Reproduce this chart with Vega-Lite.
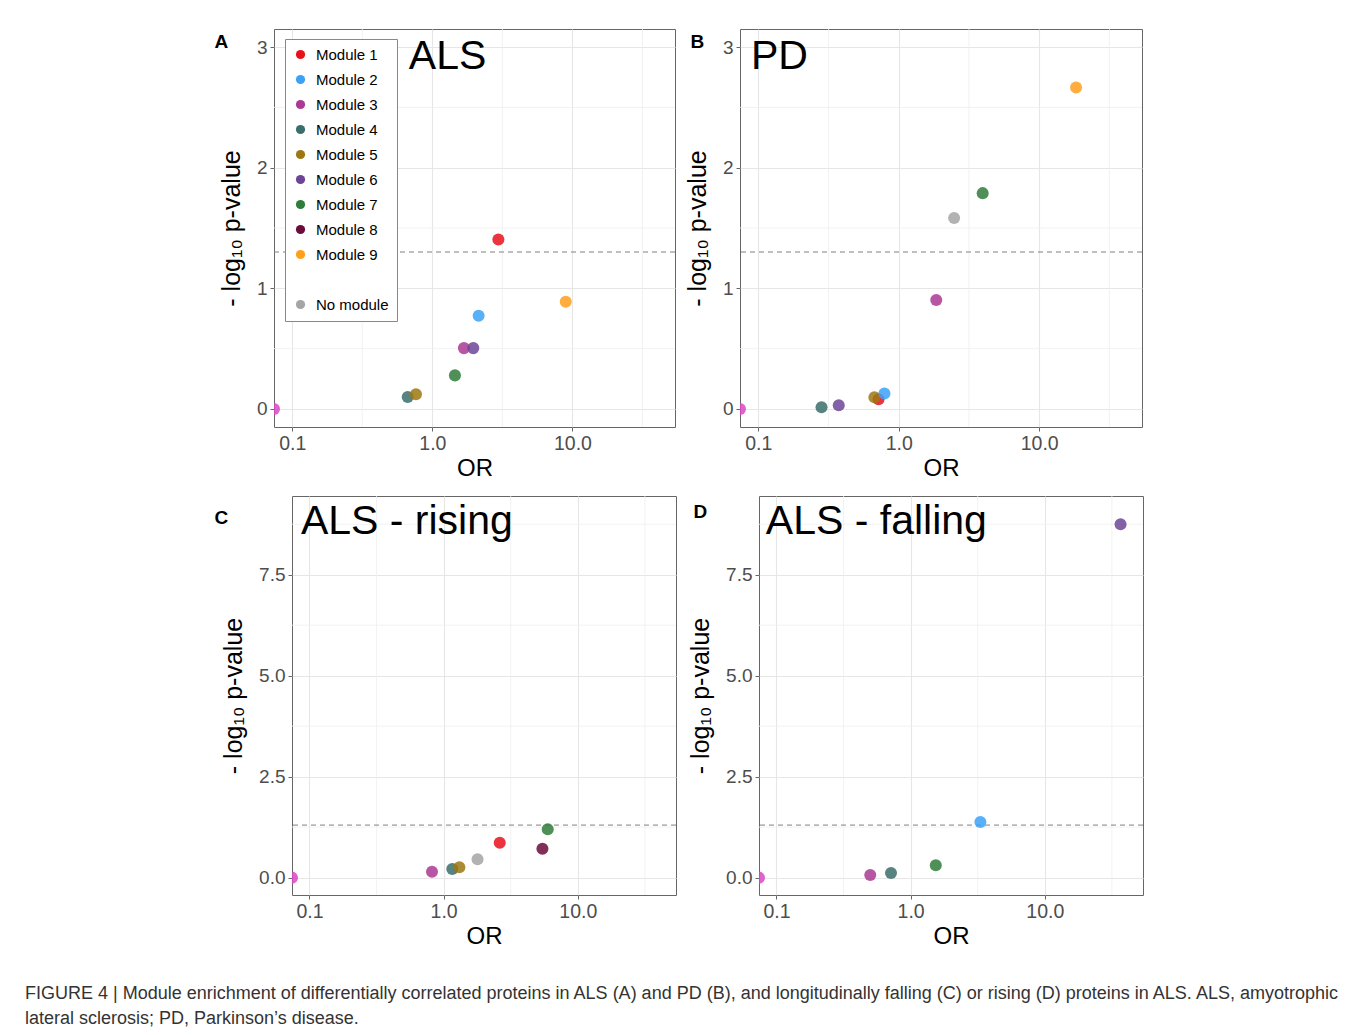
{
  "$schema": "https://vega.github.io/schema/vega-lite/v6.json",
  "background": "white",
  "padding": {"left": 25, "top": 26, "right": 10, "bottom": 10},
  "autosize": {"type": "pad"},
  "datasets": {
    "pts": [
      {"panel": "A", "module": "pink", "or": 0.0741, "p": 0},
      {"panel": "A", "module": "Module 4", "or": 0.667, "p": 0.099},
      {"panel": "A", "module": "Module 5", "or": 0.764, "p": 0.121},
      {"panel": "A", "module": "Module 7", "or": 1.45, "p": 0.278},
      {"panel": "A", "module": "Module 3", "or": 1.68, "p": 0.504},
      {"panel": "A", "module": "Module 6", "or": 1.96, "p": 0.504},
      {"panel": "A", "module": "Module 2", "or": 2.14, "p": 0.773},
      {"panel": "A", "module": "Module 1", "or": 2.96, "p": 1.404},
      {"panel": "A", "module": "Module 9", "or": 8.96, "p": 0.889},
      {"panel": "B", "module": "pink", "or": 0.0741, "p": 0},
      {"panel": "B", "module": "Module 4", "or": 0.282, "p": 0.014},
      {"panel": "B", "module": "Module 6", "or": 0.374, "p": 0.031},
      {"panel": "B", "module": "Module 1", "or": 0.718, "p": 0.08},
      {"panel": "B", "module": "Module 5", "or": 0.671, "p": 0.097},
      {"panel": "B", "module": "Module 2", "or": 0.791, "p": 0.127},
      {"panel": "B", "module": "Module 3", "or": 1.85, "p": 0.903},
      {"panel": "B", "module": "No module", "or": 2.48, "p": 1.583},
      {"panel": "B", "module": "Module 7", "or": 3.96, "p": 1.789},
      {"panel": "B", "module": "Module 9", "or": 18.3, "p": 2.665},
      {"panel": "C", "module": "pink", "or": 0.0741, "p": 0},
      {"panel": "C", "module": "Module 3", "or": 0.819, "p": 0.148},
      {"panel": "C", "module": "Module 4", "or": 1.16, "p": 0.215},
      {"panel": "C", "module": "Module 5", "or": 1.31, "p": 0.257},
      {"panel": "C", "module": "No module", "or": 1.79, "p": 0.455},
      {"panel": "C", "module": "Module 1", "or": 2.62, "p": 0.866},
      {"panel": "C", "module": "Module 8", "or": 5.45, "p": 0.717},
      {"panel": "C", "module": "Module 7", "or": 5.97, "p": 1.197},
      {"panel": "D", "module": "pink", "or": 0.0741, "p": 0},
      {"panel": "D", "module": "Module 3", "or": 0.5, "p": 0.067},
      {"panel": "D", "module": "Module 4", "or": 0.714, "p": 0.116},
      {"panel": "D", "module": "Module 7", "or": 1.54, "p": 0.306},
      {"panel": "D", "module": "Module 2", "or": 3.31, "p": 1.377},
      {"panel": "D", "module": "Module 6", "or": 36.7, "p": 8.75}
    ],
    "labels": [
      {"panel": "A", "label": "ALS", "or": 0.679, "p": 2.82},
      {"panel": "B", "label": "PD", "or": 0.0886, "p": 2.82},
      {"panel": "C", "label": "ALS - rising", "or": 0.0863, "p": 8.516},
      {"panel": "D", "label": "ALS - falling", "or": 0.0833, "p": 8.516}
    ],
    "minorx": [{"gx": 0.31623}, {"gx": 3.1623}, {"gx": 31.623}],
    "minorAB": [{"gy": 0.5}, {"gy": 1.5}, {"gy": 2.5}],
    "minorCD": [{"gy": 1.25}, {"gy": 3.75}, {"gy": 6.25}, {"gy": 8.75}]
  },
  "title": {
    "text": ["FIGURE 4 | Module enrichment of differentially correlated proteins in ALS (A) and PD (B), and longitudinally falling (C) or rising (D) proteins in ALS. ALS, amyotrophic", "lateral sclerosis; PD, Parkinson’s disease."],
    "orient": "bottom",
    "anchor": "start",
    "frame": "group",
    "dx": -174,
    "offset": 36,
    "font": "Liberation Sans",
    "fontSize": 18,
    "fontWeight": "normal",
    "color": "#333333",
    "lineHeight": 25
  },
  "spacing": 12,
  "resolve": {"scale": {"color": "independent"}, "legend": {"color": "independent"}},
  "vconcat": [
    {
      "spacing": 8,
      "resolve": {"scale": {"color": "independent"}, "legend": {"color": "independent"}},
      "hconcat": [
        {
          "width": 6, "height": 1,
          "view": {"stroke": null},
          "data": {"values": [{}]},
          "mark": {"type": "point", "opacity": 0},
          "encoding": {}
        },
        {
          "width": 401, "height": 398,
          "title": {"text": "A", "dx": -5, "offset": -23},
          "layer": [
            {"data": {"name": "minorx"}, "mark": {"type": "rule", "color": "#EFEFEF", "strokeWidth": 0.8}, "encoding": {"x": {"field": "gx", "type": "quantitative", "title": "OR"}}},
            {"data": {"name": "minorAB"}, "mark": {"type": "rule", "color": "#EFEFEF", "strokeWidth": 0.8}, "encoding": {"y": {"field": "gy", "type": "quantitative", "title": "- log₁₀ p-value"}}},
            {
              "data": {"values": [{}]},
              "mark": {"type": "rule", "strokeDash": [5, 4], "color": "#808080", "strokeWidth": 1},
              "encoding": {"y": {"datum": 1.30103, "type": "quantitative"}}
            },
            {
              "data": {"name": "pts"},
              "transform": [{"filter": "datum.panel === 'A'"}],
              "mark": {"type": "point", "filled": true, "size": 145, "opacity": 0.85, "clip": true},
              "encoding": {
                "x": {"field": "or", "type": "quantitative", "title": "OR",
                  "scale": {"type": "log", "domain": [0.0741, 53.95], "nice": false},
                  "axis": {"values": [0.1, 1, 10], "format": ".1f"}},
                "y": {"field": "p", "type": "quantitative", "title": "- log₁₀ p-value",
                  "scale": {"domain": [-0.15, 3.15], "nice": false, "zero": false},
                  "axis": {"values": [0, 1, 2, 3], "format": "d"}},
                "color": {"field": "module", "type": "nominal",
                  "condition": {"test": "datum.module === 'pink'", "value": "#D946C6"},
                  "scale": {"domain": ["Module 1", "Module 2", "Module 3", "Module 4", "Module 5", "Module 6", "Module 7", "Module 8", "Module 9", " ", "No module"],
                    "range": ["#E8111B", "#3BA3F7", "#AA3A94", "#3A6E6A", "#9E7712", "#6C4596", "#2F7D3A", "#6B0C3C", "#FF9F1C", "transparent", "#A5A5A5"]},
                  "legend": {"title": null, "orient": "none", "legendX": 11, "legendY": 10, "strokeColor": "#888888", "fillColor": "white", "padding": 8, "labelFontSize": 15, "labelFont": "Liberation Sans", "labelColor": "black", "symbolSize": 85, "symbolOpacity": 1, "symbolStrokeWidth": 0, "symbolType": "circle", "rowPadding": 9, "labelOffset": 8}}
              }
            },
            {
              "data": {"name": "labels"},
              "transform": [{"filter": "datum.panel === 'A'"}],
              "mark": {"type": "text", "fontSize": 41, "align": "left", "baseline": "alphabetic", "font": "Liberation Sans", "color": "black"},
              "encoding": {"x": {"field": "or", "type": "quantitative", "title": "OR"}, "y": {"field": "p", "type": "quantitative", "title": "- log₁₀ p-value"}, "text": {"field": "label"}}
            }
          ]
        },
        {
          "width": 402, "height": 398,
          "title": {"text": "B", "dx": 5, "offset": -23},
          "layer": [
            {"data": {"name": "minorx"}, "mark": {"type": "rule", "color": "#EFEFEF", "strokeWidth": 0.8}, "encoding": {"x": {"field": "gx", "type": "quantitative", "title": "OR"}}},
            {"data": {"name": "minorAB"}, "mark": {"type": "rule", "color": "#EFEFEF", "strokeWidth": 0.8}, "encoding": {"y": {"field": "gy", "type": "quantitative", "title": "- log₁₀ p-value"}}},
            {
              "data": {"values": [{}]},
              "mark": {"type": "rule", "strokeDash": [5, 4], "color": "#808080", "strokeWidth": 1},
              "encoding": {"y": {"datum": 1.30103, "type": "quantitative"}}
            },
            {
              "data": {"name": "pts"},
              "transform": [{"filter": "datum.panel === 'B'"}],
              "mark": {"type": "point", "filled": true, "size": 145, "opacity": 0.85, "clip": true},
              "encoding": {
                "x": {"field": "or", "type": "quantitative", "title": "OR",
                  "scale": {"type": "log", "domain": [0.0741, 53.95], "nice": false},
                  "axis": {"values": [0.1, 1, 10], "format": ".1f"}},
                "y": {"field": "p", "type": "quantitative", "title": "- log₁₀ p-value",
                  "scale": {"domain": [-0.15, 3.15], "nice": false, "zero": false},
                  "axis": {"values": [0, 1, 2, 3], "format": "d"}},
                "color": {"field": "module", "type": "nominal",
                  "condition": {"test": "datum.module === 'pink'", "value": "#D946C6"},
                  "scale": {"domain": ["Module 1", "Module 2", "Module 3", "Module 4", "Module 5", "Module 6", "Module 7", "Module 8", "Module 9", " ", "No module"],
                    "range": ["#E8111B", "#3BA3F7", "#AA3A94", "#3A6E6A", "#9E7712", "#6C4596", "#2F7D3A", "#6B0C3C", "#FF9F1C", "transparent", "#A5A5A5"]},
                  "legend": null}
              }
            },
            {
              "data": {"name": "labels"},
              "transform": [{"filter": "datum.panel === 'B'"}],
              "mark": {"type": "text", "fontSize": 41, "align": "left", "baseline": "alphabetic", "font": "Liberation Sans", "color": "black"},
              "encoding": {"x": {"field": "or", "type": "quantitative", "title": "OR"}, "y": {"field": "p", "type": "quantitative", "title": "- log₁₀ p-value"}, "text": {"field": "label"}}
            }
          ]
        }
      ]
    },
    {
      "spacing": 11,
      "resolve": {"scale": {"color": "independent"}, "legend": {"color": "independent"}},
      "hconcat": [
        {
          "width": 1, "height": 1,
          "view": {"stroke": null},
          "data": {"values": [{}]},
          "mark": {"type": "point", "opacity": 0},
          "encoding": {}
        },
        {
          "width": 384, "height": 399,
          "title": {"text": "C", "dx": -7, "offset": -32},
          "layer": [
            {"data": {"name": "minorx"}, "mark": {"type": "rule", "color": "#EFEFEF", "strokeWidth": 0.8}, "encoding": {"x": {"field": "gx", "type": "quantitative", "title": "OR"}}},
            {"data": {"name": "minorCD"}, "mark": {"type": "rule", "color": "#EFEFEF", "strokeWidth": 0.8}, "encoding": {"y": {"field": "gy", "type": "quantitative", "title": "- log₁₀ p-value"}}},
            {
              "data": {"values": [{}]},
              "mark": {"type": "rule", "strokeDash": [5, 4], "color": "#808080", "strokeWidth": 1},
              "encoding": {"y": {"datum": 1.30103, "type": "quantitative"}}
            },
            {
              "data": {"name": "pts"},
              "transform": [{"filter": "datum.panel === 'C'"}],
              "mark": {"type": "point", "filled": true, "size": 145, "opacity": 0.85, "clip": true},
              "encoding": {
                "x": {"field": "or", "type": "quantitative", "title": "OR",
                  "scale": {"type": "log", "domain": [0.0741, 53.95], "nice": false},
                  "axis": {"values": [0.1, 1, 10], "format": ".1f"}},
                "y": {"field": "p", "type": "quantitative", "title": "- log₁₀ p-value",
                  "scale": {"domain": [-0.43, 9.45], "nice": false, "zero": false},
                  "axis": {"values": [0, 2.5, 5, 7.5], "format": ".1f"}},
                "color": {"field": "module", "type": "nominal",
                  "condition": {"test": "datum.module === 'pink'", "value": "#D946C6"},
                  "scale": {"domain": ["Module 1", "Module 2", "Module 3", "Module 4", "Module 5", "Module 6", "Module 7", "Module 8", "Module 9", " ", "No module"],
                    "range": ["#E8111B", "#3BA3F7", "#AA3A94", "#3A6E6A", "#9E7712", "#6C4596", "#2F7D3A", "#6B0C3C", "#FF9F1C", "transparent", "#A5A5A5"]},
                  "legend": null}
              }
            },
            {
              "data": {"name": "labels"},
              "transform": [{"filter": "datum.panel === 'C'"}],
              "mark": {"type": "text", "fontSize": 41, "align": "left", "baseline": "alphabetic", "font": "Liberation Sans", "color": "black"},
              "encoding": {"x": {"field": "or", "type": "quantitative", "title": "OR"}, "y": {"field": "p", "type": "quantitative", "title": "- log₁₀ p-value"}, "text": {"field": "label"}}
            }
          ]
        },
        {
          "width": 384, "height": 399,
          "title": {"text": "D", "dx": 5, "offset": -26},
          "layer": [
            {"data": {"name": "minorx"}, "mark": {"type": "rule", "color": "#EFEFEF", "strokeWidth": 0.8}, "encoding": {"x": {"field": "gx", "type": "quantitative", "title": "OR"}}},
            {"data": {"name": "minorCD"}, "mark": {"type": "rule", "color": "#EFEFEF", "strokeWidth": 0.8}, "encoding": {"y": {"field": "gy", "type": "quantitative", "title": "- log₁₀ p-value"}}},
            {
              "data": {"values": [{}]},
              "mark": {"type": "rule", "strokeDash": [5, 4], "color": "#808080", "strokeWidth": 1},
              "encoding": {"y": {"datum": 1.30103, "type": "quantitative"}}
            },
            {
              "data": {"name": "pts"},
              "transform": [{"filter": "datum.panel === 'D'"}],
              "mark": {"type": "point", "filled": true, "size": 145, "opacity": 0.85, "clip": true},
              "encoding": {
                "x": {"field": "or", "type": "quantitative", "title": "OR",
                  "scale": {"type": "log", "domain": [0.0741, 53.95], "nice": false},
                  "axis": {"values": [0.1, 1, 10], "format": ".1f"}},
                "y": {"field": "p", "type": "quantitative", "title": "- log₁₀ p-value",
                  "scale": {"domain": [-0.43, 9.45], "nice": false, "zero": false},
                  "axis": {"values": [0, 2.5, 5, 7.5], "format": ".1f"}},
                "color": {"field": "module", "type": "nominal",
                  "condition": {"test": "datum.module === 'pink'", "value": "#D946C6"},
                  "scale": {"domain": ["Module 1", "Module 2", "Module 3", "Module 4", "Module 5", "Module 6", "Module 7", "Module 8", "Module 9", " ", "No module"],
                    "range": ["#E8111B", "#3BA3F7", "#AA3A94", "#3A6E6A", "#9E7712", "#6C4596", "#2F7D3A", "#6B0C3C", "#FF9F1C", "transparent", "#A5A5A5"]},
                  "legend": null}
              }
            },
            {
              "data": {"name": "labels"},
              "transform": [{"filter": "datum.panel === 'D'"}],
              "mark": {"type": "text", "fontSize": 41, "align": "left", "baseline": "alphabetic", "font": "Liberation Sans", "color": "black"},
              "encoding": {"x": {"field": "or", "type": "quantitative", "title": "OR"}, "y": {"field": "p", "type": "quantitative", "title": "- log₁₀ p-value"}, "text": {"field": "label"}}
            }
          ]
        }
      ]
    }
  ],
  "config": {
    "font": "Liberation Sans",
    "view": {"stroke": "#666666", "strokeWidth": 1},
    "axis": {"labelFont": "Liberation Sans", "titleFont": "Liberation Sans", "labelColor": "#4D4D4D", "titleColor": "black", "titleFontWeight": "normal", "tickColor": "#666666", "tickSize": 4, "domain": false, "grid": true, "gridColor": "#E6E6E6", "gridWidth": 1.1, "labelPadding": 3},
    "axisX": {"labelFontSize": 19.5, "titleFontSize": 24, "titlePadding": 4, "labelFlush": false},
    "axisY": {"labelFontSize": 19, "titleFontSize": 25, "titlePadding": 12},
    "title": {"anchor": "start", "frame": "bounds", "orient": "top", "fontSize": 19, "fontWeight": "bold", "font": "Liberation Sans", "color": "black"}
  }
}
